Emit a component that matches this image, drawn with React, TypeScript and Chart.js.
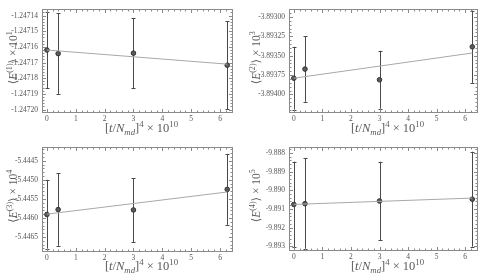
import React, { useEffect, useRef } from "react";
import { Chart, registerables } from "chart.js";

Chart.register(...registerables);

// ---- data ----
const xVals = [0, 0.39, 3.0, 6.25];
const fitX = [0, 6.25];
const xTicks = [0, 1, 2, 3, 4, 5, 6];

const means1 = [-1.247162, -1.2471643, -1.247164, -1.2471717];
const errs1 = [0.0000245, 0.0000257, 0.0000225, 0.000028];
const fit1 = [-1.247162, -1.247171];
const yTicks1 = [-1.24714, -1.24715, -1.24716, -1.24717, -1.24718, -1.24719, -1.2472];

const means2 = [-3.89379, -3.8936725, -3.89381, -3.893385];
const errs2 = [0.000405, 0.000421, 0.000374, 0.000466];
const fit2 = [-3.89379, -3.893465];
const yTicks2 = [-3.893, -3.89325, -3.8935, -3.89375, -3.894];

const means3 = [-5.445909, -5.44578, -5.44579, -5.44525];
const errs3 = [0.00091, 0.00095, 0.00084, 0.00093];
const fit3 = [-5.4459, -5.445318];
const yTicks3 = [-5.4445, -5.445, -5.4455, -5.446, -5.4465];

const means4 = [-9.89076, -9.89072, -9.890575, -9.89048];
const errs4 = [0.00229, 0.00242, 0.0021, 0.00254];
const fit4 = [-9.89076, -9.89042];
const yTicks4 = [-9.888, -9.889, -9.89, -9.891, -9.892, -9.893];

type Seg = { t: string; it?: boolean; sup?: boolean; sub?: boolean };

const xTitle: Seg[] = [
  { t: "[" }, { t: "t", it: true }, { t: "/" }, { t: "N", it: true }, { t: "md", it: true, sub: true },
  { t: "]" }, { t: "4", sup: true }, { t: " × 10" }, { t: "10", sup: true },
];
const yTitle = (n: string, p: string): Seg[] => [
  { t: "⟨" }, { t: "E", it: true }, { t: "(" + n + ")", sup: true }, { t: "⟩ × 10" }, { t: p, sup: true },
];

const FONT = "'Liberation Serif', 'DejaVu Serif', serif";

interface PanelCfg {
  left: number; top: number; w: number; h: number;
  yW: number; xH: number; padTop: number; padRight: number; yTitleX: number;
  means: number[]; errs: number[]; fit: number[]; yTicks: number[];
  yMin: number; yMax: number; dec: number; yTitle: Seg[];
}

const panels: PanelCfg[] = [
  { left: 0, top: 0, w: 241, h: 138, yW: 42, xH: 25, padTop: 1, padRight: 8, yTitleX: 17,
    means: means1, errs: errs1, fit: fit1, yTicks: yTicks1, yMin: -1.2472022, yMax: -1.2471355, dec: 5, yTitle: yTitle("1", "1") },
  { left: 241, top: 0, w: 242, h: 138, yW: 48, xH: 25, padTop: 2, padRight: 0, yTitleX: 19,
    means: means2, errs: errs2, fit: fit2, yTicks: yTicks2, yMin: -3.894239, yMax: -3.892891, dec: 5, yTitle: yTitle("2", "3") },
  { left: 0, top: 138, w: 241, h: 138, yW: 42, xH: 24, padTop: 3, padRight: 8, yTitleX: 17,
    means: means3, errs: errs3, fit: fit3, yTicks: yTicks3, yMin: -5.446893, yMax: -5.444125, dec: 4, yTitle: yTitle("3", "4") },
  { left: 241, top: 138, w: 242, h: 138, yW: 48, xH: 25, padTop: 3, padRight: 0, yTitleX: 19,
    means: means4, errs: errs4, fit: fit4, yTicks: yTicks4, yMin: -9.893252, yMax: -9.88766, dec: 3, yTitle: yTitle("4", "5") },
];

function measureRich(ctx: CanvasRenderingContext2D, segs: Seg[], size: number) {
  let w = 0;
  for (const s of segs) {
    const fs = s.sup || s.sub ? size * 0.7 : size;
    ctx.font = `${s.it ? "italic " : ""}${fs}px ${FONT}`;
    w += ctx.measureText(s.t).width;
  }
  return w;
}
function drawRich(ctx: CanvasRenderingContext2D, segs: Seg[], size: number, x: number, y: number) {
  let cx = x;
  ctx.textBaseline = "alphabetic";
  ctx.textAlign = "left";
  for (const s of segs) {
    const fs = s.sup || s.sub ? size * 0.7 : size;
    ctx.font = `${s.it ? "italic " : ""}${fs}px ${FONT}`;
    const dy = s.sup ? -size * 0.42 : s.sub ? size * 0.2 : 0;
    ctx.fillText(s.t, cx, y + dy);
    cx += ctx.measureText(s.t).width;
  }
}

function Panel({ cfg }: { cfg: PanelCfg }) {
  const ref = useRef<HTMLCanvasElement>(null);
  useEffect(() => {
    if (!ref.current) return;
    const errPlugin = {
      id: "errbars",
      beforeDatasetsDraw(chart: any) {
        const { ctx, scales } = chart;
        const xs = scales.x, ys = scales.y;
        ctx.save();
        ctx.strokeStyle = "#4a4a4a";
        ctx.lineWidth = 1;
        for (let i = 0; i < xVals.length; i++) {
          const px = Math.round(xs.getPixelForValue(xVals[i])) + 0.5;
          const t = ys.getPixelForValue(cfg.means[i] + cfg.errs[i]);
          const b = ys.getPixelForValue(cfg.means[i] - cfg.errs[i]);
          ctx.beginPath();
          ctx.moveTo(px, t); ctx.lineTo(px, b);
          ctx.moveTo(px - 2, Math.round(t) + 0.5); ctx.lineTo(px + 2, Math.round(t) + 0.5);
          ctx.moveTo(px - 2, Math.round(b) + 0.5); ctx.lineTo(px + 2, Math.round(b) + 0.5);
          ctx.stroke();
        }
        ctx.restore();
      },
    };
    const framePlugin = {
      id: "frame",
      afterDraw(chart: any) {
        const { ctx, chartArea: a, scales } = chart;
        ctx.save();
        ctx.strokeStyle = "#8a8a8a";
        ctx.lineWidth = 1;
        const L = Math.round(a.left) + 0.5, R = Math.round(a.right) - 0.5;
        const T = Math.round(a.top) + 0.5, B = Math.round(a.bottom) - 0.5;
        ctx.strokeRect(L, T, R - L, B - T);
        ctx.beginPath();
        for (let k = -2; k <= 34; k++) {
          const vv = k / 5;
          const px = Math.round(scales.x.getPixelForValue(vv)) + 0.5;
          if (px < L || px > R) continue;
          const len = k % 5 === 0 ? 3.5 : 2;
          ctx.moveTo(px, B); ctx.lineTo(px, B - len);
          ctx.moveTo(px, T); ctx.lineTo(px, T + len);
        }
        const step = cfg.yTicks[0] - cfg.yTicks[1];
        const minor = step / 5;
        const base = cfg.yTicks[0];
        for (let k = -10; k <= cfg.yTicks.length * 5 + 10; k++) {
          const v = base - k * minor;
          const py = Math.round(scales.y.getPixelForValue(v)) + 0.5;
          if (py < T || py > B) continue;
          const len = k % 5 === 0 ? 3.5 : 2;
          ctx.moveTo(L, py); ctx.lineTo(L + len, py);
          ctx.moveTo(R, py); ctx.lineTo(R - len, py);
        }
        ctx.stroke();
        // titles
        ctx.fillStyle = "#5a5a5a";
        const size = 12.5;
        const xw = measureRich(ctx, xTitle, size);
        drawRich(ctx, xTitle, size, (a.left + a.right) / 2 - xw / 2 + 4, chart.height - 6);
        const ysz = 11.5;
        const yw = measureRich(ctx, cfg.yTitle, ysz);
        ctx.save();
        ctx.translate(cfg.yTitleX, (a.top + a.bottom) / 2 - 3);
        ctx.rotate(-Math.PI / 2);
        drawRich(ctx, cfg.yTitle, ysz, -yw / 2, 0);
        ctx.restore();
        ctx.restore();
      },
    };
    const chart = new Chart(ref.current, {
      type: "scatter",
      data: {
        datasets: [
          {
            type: "line",
            data: fitX.map((x, i) => ({ x, y: cfg.fit[i] })),
            borderColor: "#a8a8a8",
            borderWidth: 1,
            pointRadius: 0,
            fill: false,
          } as any,
          {
            data: xVals.map((x, i) => ({ x, y: cfg.means[i] })),
            backgroundColor: "#5a5a5a",
            borderColor: "#333",
            borderWidth: 1,
            pointRadius: 2.3,
          },
        ],
      },
      options: {
        animation: false,
        responsive: false,
        devicePixelRatio: 1,
        layout: { padding: { top: cfg.padTop, right: cfg.padRight, left: 0, bottom: 0 } },
        plugins: { legend: { display: false }, tooltip: { enabled: false } },
        scales: {
          x: {
            type: "linear",
            min: -0.17,
            max: 6.45,
            afterBuildTicks: (s: any) => { s.ticks = xTicks.map((v) => ({ value: v })); },
            afterFit: (s: any) => { s.height = cfg.xH; },
            grid: { display: false, drawTicks: false },
            border: { display: false },
            ticks: { color: "#555", font: { family: FONT, size: 7.5 }, padding: 2, maxRotation: 0, callback: (v: any) => String(v) },
          },
          y: {
            type: "linear",
            min: cfg.yMin,
            max: cfg.yMax,
            afterBuildTicks: (s: any) => { s.ticks = cfg.yTicks.map((v) => ({ value: v })); },
            afterFit: (s: any) => { s.width = cfg.yW; },
            grid: { display: false, drawTicks: false },
            border: { display: false },
            ticks: { color: "#555", font: { family: FONT, size: 7.5 }, padding: 4, callback: (v: any) => Number(v).toFixed(cfg.dec) },
          },
        },
      },
      plugins: [errPlugin, framePlugin],
    });
    return () => chart.destroy();
  }, []);
  return (
    <canvas
      ref={ref}
      width={cfg.w}
      height={cfg.h}
      style={{ position: "absolute", left: cfg.left, top: cfg.top, width: cfg.w, height: cfg.h }}
    />
  );
}

export default function App() {
  return (
    <div style={{ position: "fixed", left: 0, top: 0, width: 483, height: 276, background: "#fff" }}>
      {panels.map((p, i) => (
        <Panel key={i} cfg={p} />
      ))}
    </div>
  );
}
